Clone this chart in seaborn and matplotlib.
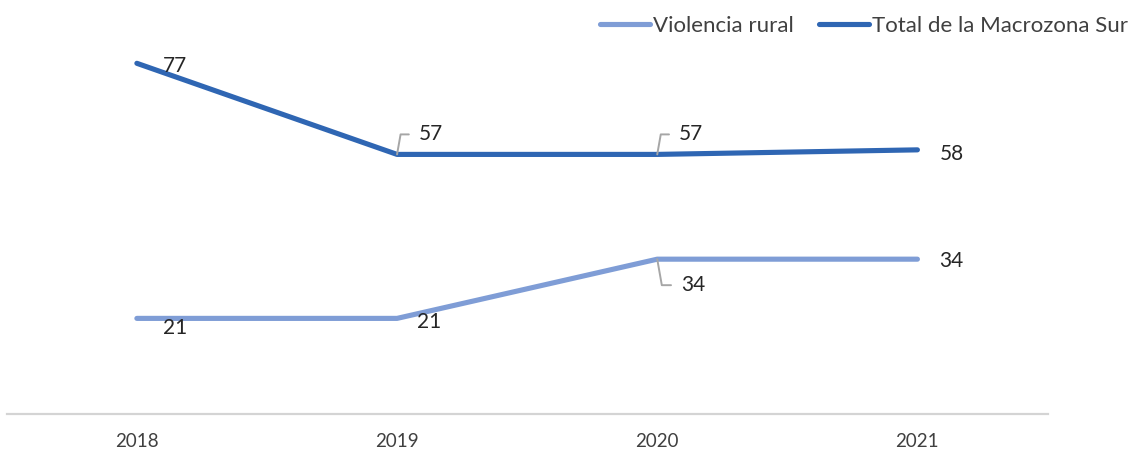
import matplotlib
matplotlib.use("Agg")
import matplotlib.pyplot as plt
import seaborn as sns
import pandas as pd

years = ["2018", "2019", "2020", "2021"]
series_names = ["Violencia rural", "Total de la Macrozona Sur"]
violencia_rural = [21, 21, 34, 34]
total_macrozona = [77, 57, 57, 58]
colors = {"Violencia rural": "#7F9DD6", "Total de la Macrozona Sur": "#2F66B3"}

df = pd.DataFrame({
    "Año": years * 2,
    "Serie": [series_names[0]] * len(years) + [series_names[1]] * len(years),
    "Valor": violencia_rural + total_macrozona,
})

sns.set_theme(style="white")
plt.rcParams["font.family"] = ["Lato", "DejaVu Sans"]

fig = plt.figure(figsize=(11.3, 4.54), dpi=100)
ax = fig.add_axes([0.006, 0.088, 0.921, 0.903])

sns.lineplot(data=df, x="Año", y="Valor", hue="Serie", hue_order=series_names,
             palette=colors, linewidth=3.7, sort=False, ax=ax, legend=False)
for ln in ax.get_lines():
    ln.set_solid_capstyle("round")

ax.set_xlim(-0.5, 3.5)
ax.set_ylim(0, 90)
ax.set_yticks([])
ax.set_xlabel("")
ax.set_ylabel("")
for s in ["top", "right", "left"]:
    ax.spines[s].set_visible(False)
ax.spines["bottom"].set_color("#D4D4D4")
ax.spines["bottom"].set_linewidth(1.6)
ax.tick_params(axis="x", length=0, pad=14, labelsize=13.5, labelcolor="#404040")

label_color = "#262626"
leader = "#A6A6A6"

def label(x, y, text, dx, dy, lead=False, angleB=80):
    kw = {}
    if lead:
        kw["arrowprops"] = dict(arrowstyle="-", color=leader, lw=1.4,
                                connectionstyle=f"angle,angleA=0,angleB={angleB},rad=0",
                                relpos=(0, 0.5), shrinkA=5, shrinkB=0)
    ax.annotate(text, xy=(x, y), xytext=(dx, dy), textcoords="offset pixels",
                ha="left", va="center", fontsize=15, color=label_color, **kw)

# Violencia rural labels
label(0, violencia_rural[0], str(violencia_rural[0]), 26, -10)
label(1, violencia_rural[1], str(violencia_rural[1]), 20, -4)
label(2, violencia_rural[2], str(violencia_rural[2]), 24, -26, lead=True, angleB=-80)
label(3, violencia_rural[3], str(violencia_rural[3]), 22, -2)

# Total de la Macrozona Sur labels
label(0, total_macrozona[0], str(total_macrozona[0]), 26, -3)
label(1, total_macrozona[1], str(total_macrozona[1]), 22, 20, lead=True)
label(2, total_macrozona[2], str(total_macrozona[2]), 22, 20, lead=True)
label(3, total_macrozona[3], str(total_macrozona[3]), 22, -4)

handles = [plt.Line2D([], [], color=colors[n], lw=3.7, solid_capstyle="round") for n in series_names]
fig.legend(handles, series_names, loc="upper right", bbox_to_anchor=(1.008, 0.99),
           borderaxespad=0.1, ncol=2, frameon=False, fontsize=16, handlelength=2.25,
           handletextpad=0.15, columnspacing=1.1, labelcolor="#404040")

fig.savefig("out.png", dpi=100, facecolor="white")
